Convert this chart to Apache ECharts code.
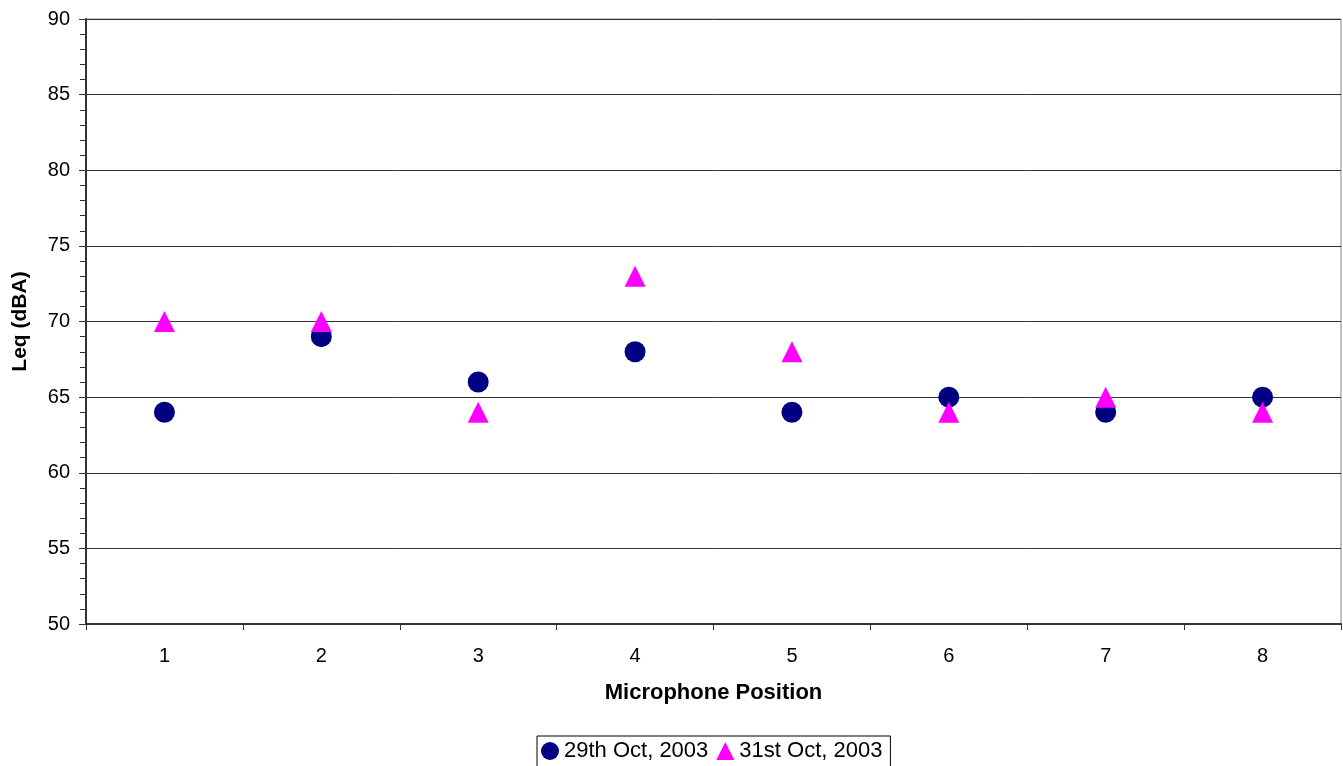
<!DOCTYPE html>
<html><head><meta charset="utf-8">
<script src="https://cdn.jsdelivr.net/npm/echarts@6/dist/echarts.min.js"></script>
<style>html,body{margin:0;padding:0;background:#fff}#c{width:1343px;height:766px}</style>
</head><body><div id="c"></div>
<script>
const categories = ['1','2','3','4','5','6','7','8'];
const oct29 = [64, 69, 66, 68, 64, 65, 64, 65];
const oct31 = [70, 70, 64, 73, 68, 64, 65, 64];
const seriesNames = ['29th Oct, 2003', '31st Oct, 2003'];

const chart = echarts.init(document.getElementById('c'));
const font = 'Liberation Sans, Arial, sans-serif';
chart.setOption({
  animation: false,
  backgroundColor: '#fff',
  grid: {left: 86, right: 2, top: 19, bottom: 142, containLabel: false, outerBoundsMode: 'none',
         show: true, borderColor: '#888', borderWidth: 1},
  legend: {
    bottom: -6, left: 537,
    data: [{name: seriesNames[0], icon: 'circle'}, {name: seriesNames[1], icon: 'triangle'}],
    itemWidth: 18, itemHeight: 18, itemGap: 8,
    textStyle: {fontFamily: font, fontSize: 22, color: '#000'},
    borderColor: '#000', borderWidth: 1, padding: [4, 8, 10, 4], borderRadius: 0
  },
  xAxis: {
    type: 'category', data: categories, boundaryGap: true,
    name: 'Microphone Position', nameLocation: 'middle', nameGap: 58,
    nameTextStyle: {fontFamily: font, fontSize: 22, fontWeight: 'bold', color: '#000'},
    axisLine: {lineStyle: {color: '#333', width: 2}},
    axisTick: {show: true, length: 6, inside: false, lineStyle: {color: '#333'}},
    axisLabel: {fontFamily: font, fontSize: 20, color: '#000', margin: 22},
    splitLine: {show: false}
  },
  yAxis: {
    type: 'value', min: 50, max: 90, interval: 5,
    name: 'Leq (dBA)', nameLocation: 'middle', nameGap: 55, nameRotate: 90,
    nameTextStyle: {fontFamily: font, fontSize: 21, fontWeight: 'bold', color: '#000'},
    axisLine: {show: true, lineStyle: {color: '#333', width: 2}},
    axisTick: {show: true, length: 7, lineStyle: {color: '#333'}},
    minorTick: {show: true, splitNumber: 5, length: 6, lineStyle: {color: '#333'}},
    axisLabel: {fontFamily: font, fontSize: 20, color: '#000', margin: 16},
    splitLine: {show: true, lineStyle: {color: '#333', width: 1}}
  },
  series: [
    {name: seriesNames[0], type: 'scatter', data: oct29, symbol: 'circle', symbolSize: 21,
     itemStyle: {color: '#000080', opacity: 1}, z: 2},
    {name: seriesNames[1], type: 'scatter', data: oct31, symbol: 'triangle', symbolSize: 21,
     itemStyle: {color: '#ff00ff', opacity: 1}, z: 3}
  ]
});
</script></body></html>
